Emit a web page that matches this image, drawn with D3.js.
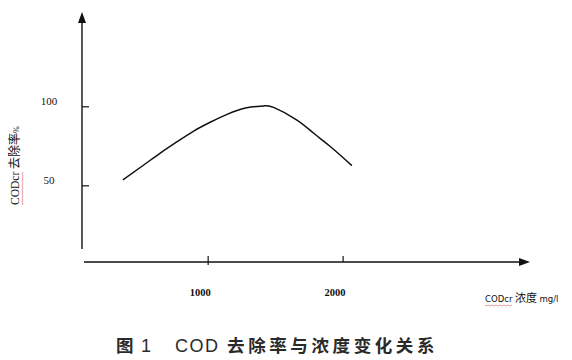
<!DOCTYPE html>
<html>
<head>
<meta charset="utf-8">
<script src="https://cdn.jsdelivr.net/npm/d3@7/dist/d3.min.js"></script>
<style>
  html, body { margin: 0; padding: 0; background: #fff; }
  svg { display: block; }
</style>
</head>
<body>
<svg id="chart" width="572" height="360"></svg>
<script>
// ---- data ----
const concentration = [368, 520, 645, 770, 890, 1015, 1140, 1285, 1410, 1485, 1655, 1780, 1905, 2065];
const removalRate   = [53.8, 63.0, 70.7, 77.9, 84.5, 90.2, 95.2, 99.4, 100.5, 99.6, 91.8, 83.4, 74.9, 62.8];
const xTickValues = [1000, 2000];
const xTickLabels = ["1000", "2000"];
const yTickValues = [50, 100];
const yTickLabels = ["50", "100"];
const xTitleParts = ["CODcr", " 浓度 ", "mg/l"];
const yTitleParts = ["CODcr", " 去除率", "%"];
const captionParts = ["图", "1", "COD", " 去除率与浓度变化关系"];

const SERIF = "'Liberation Serif', 'Times New Roman', 'DejaVu Serif', serif";
const SANS = "'Liberation Sans', Arial, sans-serif";
const CJK = "'Noto Sans CJK SC', sans-serif";
const NARROW = "'Liberation Sans Narrow', 'DejaVu Sans Condensed', sans-serif";

const svg = d3.select("#chart");

const x = d3.scaleLinear().domain([80, 3385]).range([84, 530]);
const y = d3.scaleLinear().domain([10, 160]).range([249, 12]);

const ink = "#111";

// y axis line with arrow
const yTop = y.range()[1], yBot = y.range()[0];
const yAxisX = 82;
svg.append("line").attr("x1", yAxisX).attr("x2", yAxisX).attr("y1", yTop + 8).attr("y2", yBot)
  .attr("stroke", ink).attr("stroke-width", 1.4);
svg.append("path")
  .attr("d", `M${yAxisX},${yTop} L${yAxisX - 4},${yTop + 11} L${yAxisX + 4},${yTop + 11} Z`)
  .attr("fill", ink);

// x axis line with arrow
const xAxisY = 262;
const xL = x.range()[0], xR = x.range()[1];
svg.append("line").attr("x1", xL).attr("x2", xR - 8).attr("y1", xAxisY).attr("y2", xAxisY)
  .attr("stroke", ink).attr("stroke-width", 1.4);
svg.append("path")
  .attr("d", `M${xR},${xAxisY} L${xR - 11},${xAxisY - 4} L${xR - 11},${xAxisY + 4} Z`)
  .attr("fill", ink);

// y ticks
yTickValues.forEach((v, i) => {
  svg.append("line").attr("x1", yAxisX).attr("x2", yAxisX + 7)
    .attr("y1", y(v)).attr("y2", y(v)).attr("stroke", ink).attr("stroke-width", 1.2);
  svg.append("text").attr("x", 49).attr("y", y(v) - 4)
    .attr("text-anchor", "middle").attr("dominant-baseline", "middle")
    .attr("font-family", SERIF).attr("font-size", 11)
    .attr("fill", ink).text(yTickLabels[i]);
});

// x ticks
xTickValues.forEach((v, i) => {
  svg.append("line").attr("x1", x(v)).attr("x2", x(v))
    .attr("y1", xAxisY - 6).attr("y2", xAxisY + (i === 0 ? 3 : 0))
    .attr("stroke", ink).attr("stroke-width", 1.2);
  svg.append("text").attr("x", x(v) - 8).attr("y", 296)
    .attr("text-anchor", "middle")
    .attr("font-family", SERIF).attr("font-size", 10.5).attr("font-weight", "bold")
    .attr("fill", ink).text(xTickLabels[i]);
});

// curve
const pts = concentration.map((c, i) => [c, removalRate[i]]);
svg.append("path")
  .attr("d", d3.line().x(d => x(d[0])).y(d => y(d[1])).curve(d3.curveNatural)(pts))
  .attr("fill", "none").attr("stroke", ink).attr("stroke-width", 1.5);

// wavy underline helper
function wavy(g, x0, len, yy) {
  let d = `M${x0},${yy}`;
  for (let t = 0; t < len; t += 2) d += ` L${x0 + t + 1},${yy + ((t / 2) % 2 === 0 ? 1 : 0)}`;
  g.append("path").attr("d", d).attr("fill", "none").attr("stroke", "#e07070").attr("stroke-width", 0.7);
}

// x title
{
  const g = svg.append("g").attr("transform", "translate(485,302)");
  const t1 = g.append("text").attr("x", 0).attr("y", 0)
    .attr("font-family", NARROW).attr("font-size", 9.5)
    .attr("fill", ink).text(xTitleParts[0]);
  const w1 = t1.node().getComputedTextLength();
  const t2 = g.append("text").attr("x", w1).attr("y", 0)
    .attr("font-family", CJK).attr("font-size", 11)
    .attr("fill", ink).style("white-space", "pre").text(xTitleParts[1]);
  const w2 = t2.node().getComputedTextLength();
  g.append("text").attr("x", w1 + w2).attr("y", 0)
    .attr("font-family", NARROW).attr("font-size", 9.5)
    .attr("fill", ink).text(xTitleParts[2]);
  wavy(g, 0, w1, 3);
}

// y title (rotated)
{
  const g = svg.append("g").attr("transform", "translate(19,205) rotate(-90)");
  const t1 = g.append("text").attr("x", 0).attr("y", 0)
    .attr("font-family", SERIF).attr("font-size", 11.5)
    .attr("fill", ink).text(yTitleParts[0]);
  const w1 = t1.node().getComputedTextLength();
  const t2 = g.append("text").attr("x", w1).attr("y", 0)
    .attr("font-family", CJK).attr("font-size", 12)
    .attr("fill", ink).style("white-space", "pre").text(yTitleParts[1]);
  const w2 = t2.node().getComputedTextLength();
  g.append("text").attr("x", w1 + w2).attr("y", 0)
    .attr("font-family", SERIF).attr("font-size", 8)
    .attr("fill", ink).text(yTitleParts[2]);
  wavy(g, 0, w1, 3);
}

// caption
const capColor = "#2a2a2a";
svg.append("text").attr("x", 116).attr("y", 352)
  .attr("font-family", CJK).attr("font-size", 17.5).attr("font-weight", "bold")
  .attr("fill", capColor).text(captionParts[0]);
svg.append("text").attr("x", 141).attr("y", 352)
  .attr("font-family", SANS).attr("font-size", 18)
  .attr("fill", capColor).text(captionParts[1]);
const cap = svg.append("text").attr("x", 175).attr("y", 352)
  .attr("fill", capColor).style("white-space", "pre");
cap.append("tspan").attr("font-family", SANS).attr("font-size", 18).attr("letter-spacing", 1.5)
  .text(captionParts[2]);
cap.append("tspan").attr("font-family", CJK).attr("font-size", 17.5).attr("font-weight", "bold")
  .attr("letter-spacing", 3.6).text(captionParts[3]);
</script>
</body>
</html>
